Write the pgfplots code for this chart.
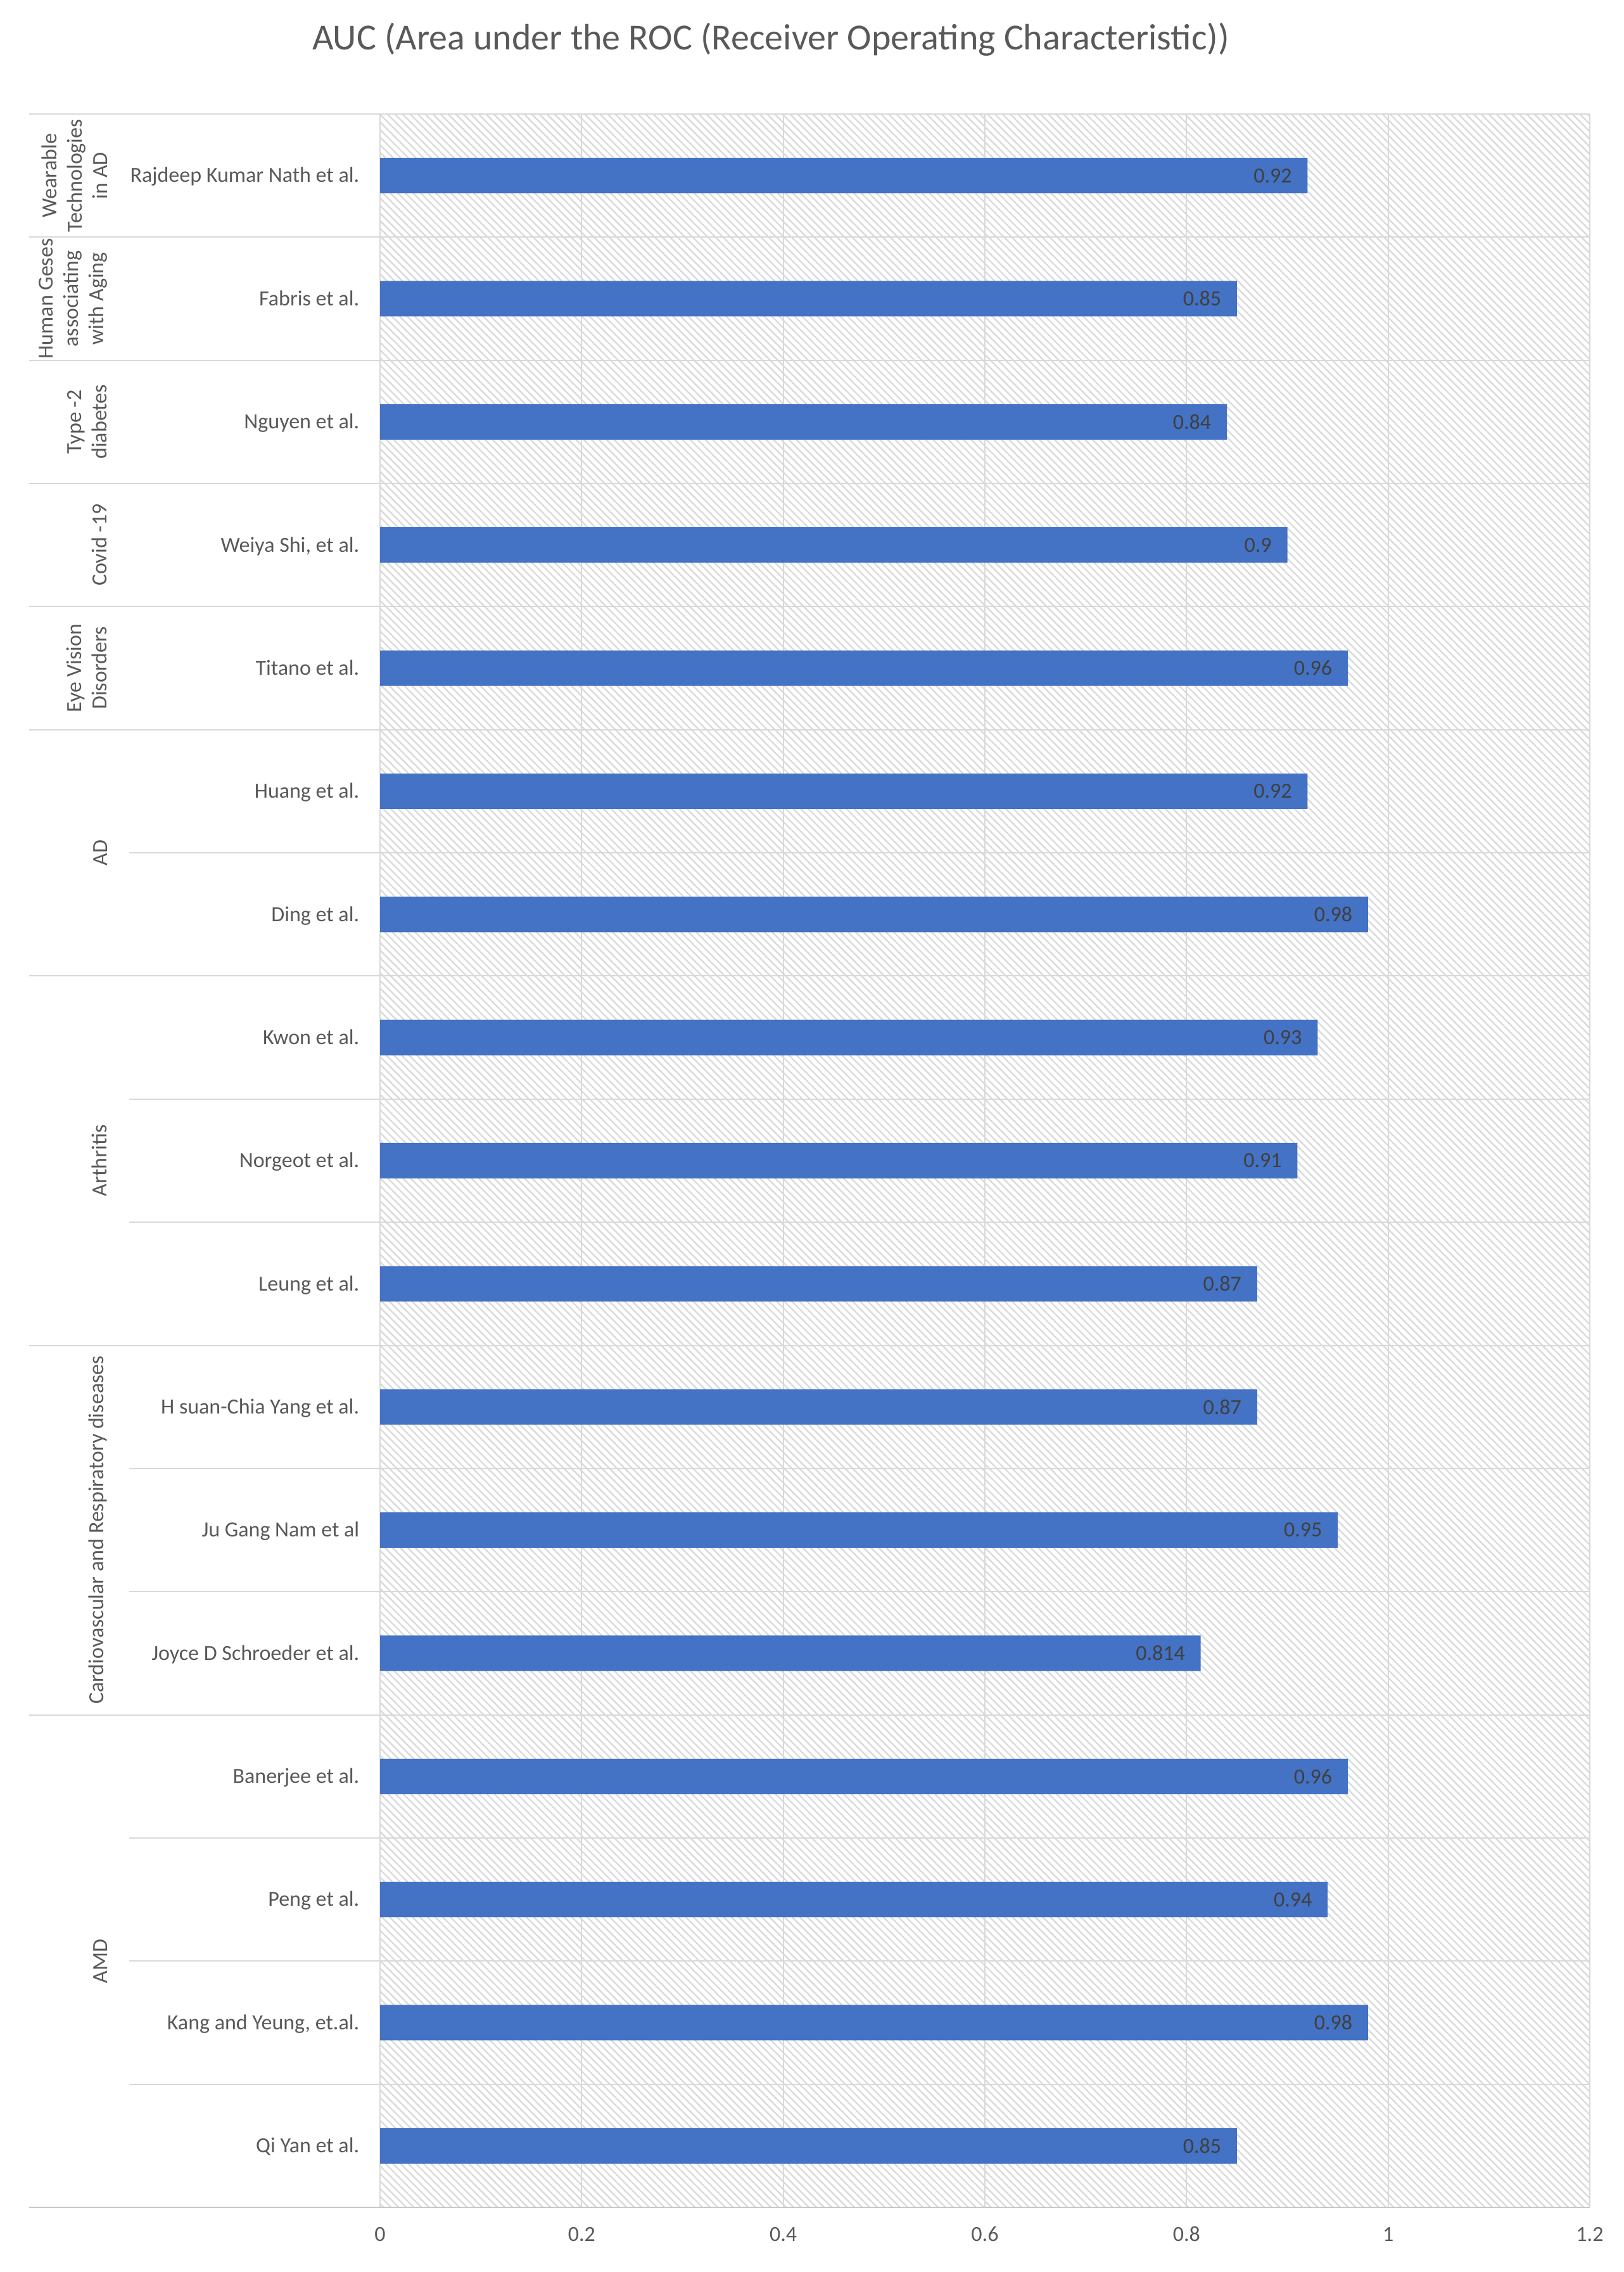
\documentclass[border=0pt]{standalone}
\usepackage{pgfplots}
\pgfplotsset{compat=1.18}
\usepackage{pgfplotstable}
\usetikzlibrary{patterns.meta}
\usepackage{fontspec}
\setmainfont{Carlito}
\definecolor{barblue}{HTML}{4472C4}
\definecolor{txt}{HTML}{595959}
\definecolor{lbl}{HTML}{404040}
\definecolor{gridc}{HTML}{D9D9D9}
\definecolor{hatch}{HTML}{DADADA}
\definecolor{axisc}{HTML}{C8C8C8}

\pgfplotstableread{
pos auc
0 0.85
1 0.98
2 0.94
3 0.96
4 0.814
5 0.95
6 0.87
7 0.87
8 0.91
9 0.93
10 0.98
11 0.92
12 0.96
13 0.9
14 0.84
15 0.85
16 0.92
}\data

\newcommand{\lblfont}{\fontsize{8.5}{10}\selectfont}

\begin{document}
\begin{tikzpicture}
\path[use as bounding box] (0,0) rectangle (640.75pt,896.5pt);
\begin{axis}[
  at={(150pt,25.5pt)}, anchor=south west,
  width=477.5pt, height=826pt, scale only axis,
  xbar, bar width=14pt,
  xmin=0, xmax=1.2, ymin=-0.5, ymax=16.5,
  enlargelimits=false, clip=false,
  axis line style={draw=none},
  major tick length=0pt,
  xtick={0,0.2,0.4,0.6,0.8,1,1.2},
  xticklabels={0,0.2,0.4,0.6,0.8,1,1.2},
  xmajorgrids,
  major grid style={draw=gridc, line width=0.5pt},
  ytick={0,1,2,3,4,5,6,7,8,9,10,11,12,13,14,15,16},
  yticklabels={Qi Yan et al., {Kang and Yeung, et.al.}, Peng et al., Banerjee et al.,
    Joyce D Schroeder et al., Ju Gang Nam et al, H suan-Chia Yang et al.,
    Leung et al., Norgeot et al., Kwon et al., Ding et al., Huang et al.,
    Titano et al., {Weiya Shi, et al.}, Nguyen et al., Fabris et al., Rajdeep Kumar Nath et al.},
  ticklabel style={font=\lblfont, text=txt, inner sep=0pt},
  xticklabel style={anchor=base, yshift=-13.25pt},
  yticklabel style={anchor=base east, xshift=-8pt, yshift=-2.7pt},
  axis background/.style={pattern={Lines[angle=-45,distance=2.12pt,line width=0.6pt]}, pattern color=hatch},
  title={AUC (Area under the ROC (Receiver Operating Characteristic))},
  title style={at={(0.323,1)}, anchor=base, yshift=19.25pt, font=\fontsize{14.5}{17}\selectfont, text=txt},
  nodes near coords, point meta=explicit symbolic,
  nodes near coords style={anchor=east, xshift=-6pt, inner sep=0pt, font=\lblfont, text=lbl},
]
\addplot[fill=barblue, draw=none] table[x=auc, y=pos, meta=auc] {\data};

\pgfplotsinvokeforeach{16.5,15.5,14.5,13.5,12.5,11.5,9.5,6.5,3.5}{
  \draw[gridc, line width=0.5pt] (axis cs:-0.348,#1) -- (axis cs:1.2,#1);
}
\pgfplotsinvokeforeach{10.5,8.5,7.5,5.5,4.5,2.5,1.5,0.5}{
  \draw[gridc, line width=0.5pt] (axis cs:-0.2488,#1) -- (axis cs:1.2,#1);
}
\draw[axisc, line width=0.7pt] (axis cs:-0.348,-0.5) -- (axis cs:1.2,-0.5);

\tikzset{grp/.style={rotate=90, anchor=south, inner sep=0pt, align=center, font=\lblfont, text=txt}}
\node[grp] at (axis cs:-0.2702,1.5) {AMD};
\node[grp] at (axis cs:-0.2702,5) {Cardiovascular and Respiratory diseases};
\node[grp] at (axis cs:-0.2702,8) {Arthritis};
\node[grp] at (axis cs:-0.2702,10.5) {AD};
\node[grp] at (axis cs:-0.2702,12) {Eye Vision\\Disorders};
\node[grp] at (axis cs:-0.2702,13) {Covid -19};
\node[grp] at (axis cs:-0.2702,14) {Type -2\\diabetes};
\node[grp] at (axis cs:-0.2702,15) {Human Geses\\associating\\with Aging};
\node[grp] at (axis cs:-0.2702,16) {Wearable\\Technologies\\in AD};
\end{axis}
\end{tikzpicture}
\end{document}
